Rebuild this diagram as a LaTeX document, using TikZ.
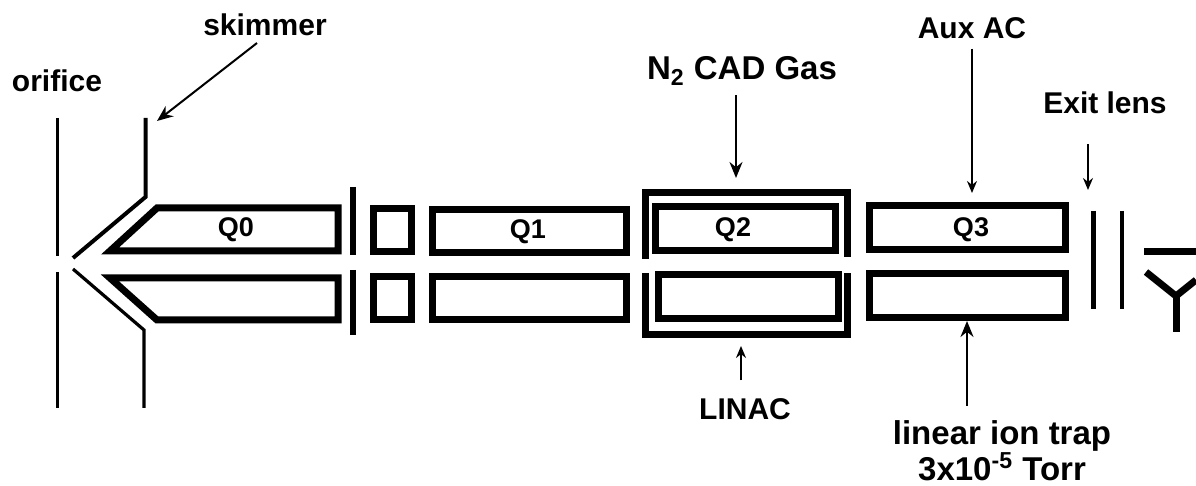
\documentclass[tikz,border=0pt]{standalone}
\usepackage{fontspec}
\setmainfont{Liberation Sans}
\usetikzlibrary{arrows.meta}
\tikzset{
 wall/.style={line width=1.5pt,line cap=butt,line join=miter},
 rod/.style={draw=black,line width=3.5pt,line join=miter,inner sep=0pt,outer sep=0pt},
 rodlab/.style={inner sep=0pt,outer sep=0pt,font=\fontsize{13.5}{15}\selectfont\bfseries},
 lab/.style={inner sep=0pt,outer sep=0pt,font=\fontsize{15}{17}\selectfont\bfseries},
 biglab/.style={inner sep=0pt,outer sep=0pt,align=center,font=\fontsize{16.5}{18}\selectfont\bfseries},
 pointer/.style={line width=1pt,-{Stealth[length=8pt,width=6.5pt]}},
 thinpointer/.style={line width=.8pt,-{Stealth[length=6pt,width=5pt]}},
}
\begin{document}
\begin{tikzpicture}[x=0.5pt,y=-0.5pt]
\useasboundingbox (0,0) rectangle (1196,486);
% labels
\node[lab] (orifice) at (57,81) {orifice};
\node[lab] (skimmer) at (265,25) {skimmer};
\node[biglab] (cad) at (742,71) {N\textsubscript{2} CAD Gas};
\node[lab] (aux) at (972,28) {Aux AC};
\node[lab] (exit) at (1105,103) {Exit lens};
\node[lab] (linac) at (745,409) {LINAC};
\node[biglab] (trap) at (1002,451) {linear ion trap\\3x10\textsuperscript{-5} Torr};
% orifice plates
\draw[wall] (57.5,118) -- (57.5,256);
\draw[wall] (57.5,272) -- (57.5,408);
% skimmer
\coordinate (skimtip) at (157,121);
\draw[line width=2pt,line join=miter] (145.5,118) -- (145.5,197) -- (73,258);
\draw[line width=1.6pt,line join=miter] (144,408) -- (144,330) -- (73,269);
% Q0
\draw[line width=3.5pt,line join=miter] (157,208) -- (338,208) -- (338,251) -- (110,251) -- cycle;
\draw[line width=3.5pt,line join=miter] (110,278) -- (338,278) -- (338,320) -- (157,320) -- cycle;
\node[rodlab] (q0) at (236,230) {Q0};
% Gate bars
\draw[line width=3pt] (353,187) -- (353,255);
\draw[line width=3pt] (353,270) -- (353,335);
% stubby
\node[rod,minimum width=19pt,minimum height=21.5pt] (st) at (392.5,230) {};
\node[rod,minimum width=19pt,minimum height=21.5pt] (sb) at (392.5,298.5) {};
% Q1
\node[rod,minimum width=97pt,minimum height=21.5pt] (q1) at (529,231) {};
\node[rodlab] (q1l) at (528,232) {Q1};
\node[rod,minimum width=97pt,minimum height=21.5pt] (q1b) at (529,298.5) {};
% Q2
\node[rod,minimum width=90pt,minimum height=22pt] (q2) at (745,229) {};
\node[rodlab] (q2l) at (733,230) {Q2};
\node[rod,minimum width=90pt,minimum height=22pt] (q2b) at (748,297) {};
\draw[line width=3.5pt,line join=miter] (645.5,259) -- (645.5,193) -- (847.5,193) -- (847.5,257);
\draw[line width=3.5pt,line join=miter] (645.5,273) -- (645.5,335) -- (847.5,335) -- (847.5,273);
% Q3
\node[rod,minimum width=98pt,minimum height=22pt] (q3) at (967.5,228) {};
\node[rodlab] (q3l) at (971,230) {Q3};
\node[rod,minimum width=98pt,minimum height=22pt] (q3b) at (967.5,295.5) {};
% Exit lens
\draw[line width=2.5pt] (1093,211) -- (1093,309);
\draw[line width=2pt] (1122,211) -- (1122,309);
% Detector
\draw[line width=3.5pt] (1144,252) -- (1196,252);
\draw[line width=3.5pt,line join=miter] (1146,272) -- (1176,296) -- (1196,280);
\draw[line width=3.5pt] (1176,296) -- (1176,332);
% arrows
\coordinate (cadtip) at (736,178);
\coordinate (auxtip) at (972,193);
\coordinate (exittip) at (1088,190);
\coordinate (linactip) at (741,346);
\coordinate (traptip) at (967,321);
\draw[pointer] (skimmer.south) ++(-8,7) -- (skimtip);
\draw[pointer] (cad.south -| cadtip) ++(0,10) -- (cadtip);
\draw[thinpointer] (aux.south -| auxtip) ++(0,10) -- (auxtip);
\draw[thinpointer] (exit.south -| exittip) ++(0,30) -- (exittip);
\draw[thinpointer] (linac.north -| linactip) ++(0,-18) -- (linactip);
\draw[pointer] (trap.north -| traptip) ++(0,-15) -- (traptip);
\end{tikzpicture}
\end{document}
